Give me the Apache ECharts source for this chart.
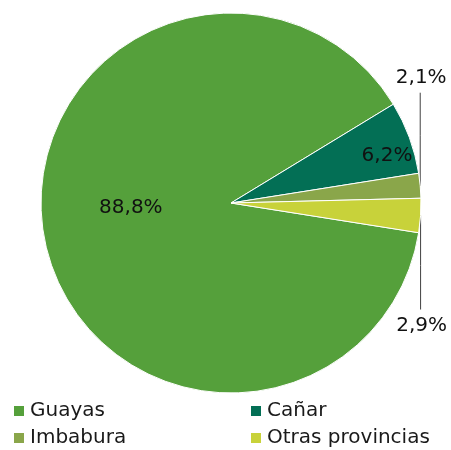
<!DOCTYPE html>
<html>
<head>
<meta charset="utf-8">
<script src="https://cdn.jsdelivr.net/npm/echarts@6/dist/echarts.min.js"></script>
<style>
  html, body { margin: 0; padding: 0; background: #fff; }
  #chart { width: 451px; height: 450px; }
</style>
</head>
<body>
<div id="chart"></div>
<script>
// datos de la figura
const provincias = ['Guayas', 'Cañar', 'Imbabura', 'Otras provincias'];
const porcentajes = [88.8, 6.2, 2.1, 2.9];
const colores = ['#55a03b', '#036f55', '#8aa64a', '#c8d23a'];
// etiquetas que van fuera con linea vertical
const fuera = ['Imbabura', 'Otras provincias'];

const fuente = 'DejaVu Sans';

const chart = echarts.init(document.getElementById('chart'));

const datos = provincias.map((p, i) => {
  const out = fuera.includes(p);
  return {
    name: p,
    value: porcentajes[i],
    itemStyle: { color: colores[i] },
    label: { position: out ? 'outside' : 'inside' },
    labelLine: { show: out }
  };
});

const leyenda = (items, left) => ({
  data: items,
  orient: 'vertical',
  left: left,
  top: 401,
  padding: 0,
  itemWidth: 12,
  itemHeight: 12,
  itemGap: 7,
  icon: 'rect',
  textStyle: { fontFamily: fuente, fontSize: 20, lineHeight: 20, color: '#1a1a1a' }
});

chart.setOption({
  animation: false,
  legend: [
    leyenda(['Guayas', 'Imbabura'], 12),
    leyenda(['Cañar', 'Otras provincias'], 249)
  ],
  series: [
    {
      type: 'pie',
      center: [231, 203],
      radius: 190,
      startAngle: -9,
      clockwise: true,
      avoidLabelOverlap: false,
      data: datos,
      itemStyle: { borderColor: '#fff', borderWidth: 1 },
      label: {
        fontFamily: fuente,
        fontSize: 20,
        color: '#111',
        formatter: (p) => p.value.toFixed(1).replace('.', ',') + '%'
      },
      labelLine: {
        lineStyle: { color: '#404040', width: 1 }
      },
      labelLayout: (params) => {
        const nombre = provincias[params.dataIndex];
        if (nombre === 'Guayas') return { dx: -4, dy: -14 };
        if (nombre === 'Cañar') return { dx: 64, dy: -13 };
        const p0 = params.labelLinePoints ? params.labelLinePoints[0] : null;
        if (!p0) return {};
        if (nombre === 'Imbabura') {
          return {
            x: p0[0] + 1, y: p0[1] - 108, align: 'center', verticalAlign: 'middle',
            labelLinePoints: [[p0[0], p0[1]], [p0[0], p0[1] - 50], [p0[0], p0[1] - 93]]
          };
        }
        return {
          x: p0[0] + 1, y: p0[1] + 110, align: 'center', verticalAlign: 'middle',
          labelLinePoints: [[p0[0], p0[1]], [p0[0], p0[1] + 50], [p0[0], p0[1] + 94]]
        };
      }
    }
  ]
});

window.addEventListener('resize', () => chart.resize());
</script>
</body>
</html>
